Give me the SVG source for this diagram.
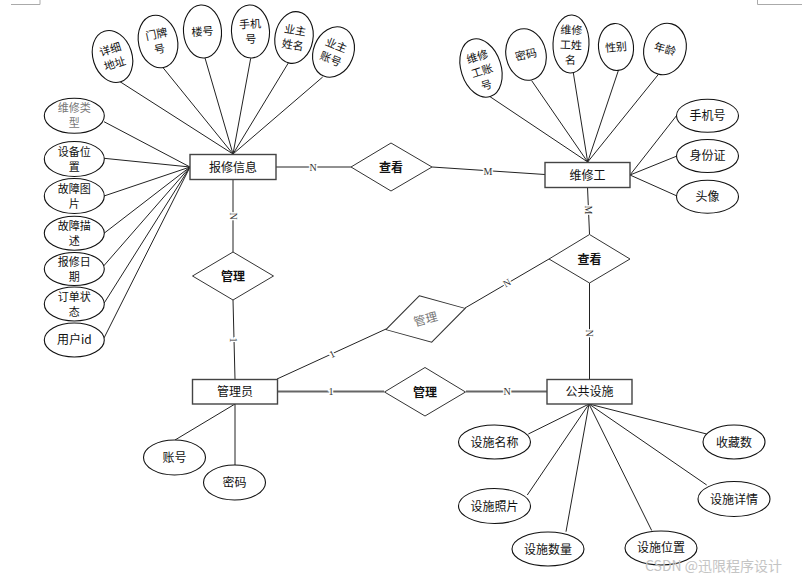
<svg xmlns="http://www.w3.org/2000/svg" width="804" height="579" viewBox="0 0 804 579">
<style>
text{font-family:"Noto Sans CJK SC","Liberation Sans",sans-serif;font-size:12px;fill:#111;text-anchor:middle}
text.ml{font-size:11px}
.ent rect{fill:#fff;stroke:#444;stroke-width:1.4}
.rel polygon{fill:#fff;stroke:#333;stroke-width:1}
.rel text{font-weight:bold}
.attr ellipse{fill:#fff;stroke:#111;stroke-width:1.1}
.gray{fill:#777}
.ln line{stroke:#222;stroke-width:1}
.ln line.thick{stroke:#666;stroke-width:2}
.card{font-family:"Liberation Serif",serif;font-size:10px;fill:#333;stroke:#fff;stroke-width:3;paint-order:stroke}
.mark{stroke:#aaa;stroke-width:1;fill:none}
.wm{font-size:14px;fill:#c4c4c4;text-anchor:start}
</style>
<path class="mark" d="M11 4.5H40V0M757.5 0V4.5H802"/>
<g id="connectors" class="ln">
<line x1="276" y1="167" x2="351" y2="167"/>
<line x1="432" y1="167" x2="545" y2="174.5"/>
<line x1="233" y1="179" x2="233" y2="252"/>
<line x1="233" y1="300" x2="235" y2="379"/>
<line x1="277" y1="379" x2="386" y2="329"/>
<line x1="465" y1="308" x2="549" y2="259"/>
<line x1="587.5" y1="187" x2="589.5" y2="234"/>
<line x1="589.5" y1="283" x2="589.5" y2="379"/>
<line class="thick" x1="277" y1="391.5" x2="384" y2="391.5"/>
<line class="thick" x1="466" y1="391.5" x2="547" y2="391.5"/>
<line x1="120" y1="81.7" x2="233" y2="154"/>
<line x1="163.3" y1="68" x2="233" y2="154"/>
<line x1="205" y1="58" x2="233" y2="154"/>
<line x1="250.7" y1="58.3" x2="233" y2="154"/>
<line x1="288.3" y1="63" x2="233" y2="154"/>
<line x1="322.7" y1="77" x2="233" y2="154"/>
<line x1="104" y1="121.7" x2="190" y2="167"/>
<line x1="104" y1="158.3" x2="190" y2="167"/>
<line x1="104" y1="196" x2="190" y2="167"/>
<line x1="104" y1="233.3" x2="190" y2="167"/>
<line x1="103" y1="266.7" x2="190" y2="167"/>
<line x1="104" y1="303.3" x2="190" y2="167"/>
<line x1="103" y1="340" x2="190" y2="167"/>
<line x1="489" y1="96" x2="587.7" y2="162"/>
<line x1="531.7" y1="80.7" x2="587.7" y2="162"/>
<line x1="573.3" y1="72.7" x2="587.7" y2="162"/>
<line x1="618.3" y1="70.7" x2="587.7" y2="162"/>
<line x1="658.3" y1="74.5" x2="587.7" y2="162"/>
<line x1="677" y1="115" x2="630" y2="175"/>
<line x1="677" y1="156" x2="630" y2="175"/>
<line x1="677" y1="196" x2="630" y2="175"/>
<line x1="175" y1="440" x2="235" y2="404"/>
<line x1="235" y1="465" x2="235" y2="404"/>
<line x1="528.3" y1="434" x2="589" y2="404"/>
<line x1="527.3" y1="495" x2="589" y2="404"/>
<line x1="566" y1="531.7" x2="589" y2="404"/>
<line x1="651.7" y1="530.5" x2="589" y2="404"/>
<line x1="706.7" y1="485" x2="589" y2="404"/>
<line x1="706.7" y1="434" x2="589" y2="404"/>
<text class="card" x="313" y="170.5">N</text>
<text class="card" x="488" y="174.5">M</text>
<text class="card" transform="translate(233,216) rotate(90)" y="3.5">N</text>
<text class="card" transform="translate(233.5,340) rotate(90)" y="3.5">1</text>
<text class="card" transform="translate(332,354) rotate(-24.6)" y="3.5">1</text>
<text class="card" transform="translate(507,283) rotate(-30)" y="3.5">N</text>
<text class="card" transform="translate(588.5,210) rotate(90)" y="3.5">M</text>
<text class="card" transform="translate(589.5,333) rotate(90)" y="3.5">N</text>
<text class="card" x="331" y="395">1</text>
<text class="card" x="507" y="395">N</text>
</g>
<g id="e-baoxiu" class="ent"><rect x="190" y="154.5" width="86" height="25"/><text x="233" y="171.5">报修信息</text></g>
<g id="e-weixiugong" class="ent"><rect x="545" y="162.5" width="85" height="25"/><text x="587.5" y="179.5">维修工</text></g>
<g id="e-guanliyuan" class="ent"><rect x="192.5" y="379.5" width="85" height="24.5"/><text x="235" y="396">管理员</text></g>
<g id="e-gonggong" class="ent"><rect x="547" y="379.5" width="85" height="24.5"/><text x="589.5" y="396">公共设施</text></g>
<g id="r-chakan1" class="rel"><polygon points="391,143 432,167 391,191 351,167"/><text x="391" y="171.5">查看</text></g>
<g id="r-guanli1" class="rel"><polygon points="233,252 273.5,276 233,300 192.5,276"/><text x="233" y="280.5">管理</text></g>
<g id="r-guanli2" class="rel" transform="translate(425.5,319) rotate(-15)"><polygon points="0,-24 41,0 0,24 -41,0"/><text class="gray" y="4.5" style="font-weight:normal">管理</text></g>
<g id="r-chakan2" class="rel"><polygon points="589.5,234.5 630,259 589.5,283 549,259"/><text x="589.5" y="263.5">查看</text></g>
<g id="r-guanli3" class="rel"><polygon points="425,367.5 465.5,392 425,416 384.5,392"/><text x="425" y="396.5">管理</text></g>
<g id="a-xiangxidizhi" class="attr" transform="translate(112.5,56.5) rotate(-18)"><ellipse rx="19.5" ry="26.5"/><text class="ml"><tspan x="0" y="-3.5">详细</tspan><tspan x="0" y="11.5">地址</tspan></text></g>
<g id="a-menpaihao" class="attr" transform="translate(158,41.5) rotate(-12)"><ellipse rx="19.5" ry="26.5"/><text class="ml"><tspan x="0" y="-3.5">门牌</tspan><tspan x="0" y="11.5">号</tspan></text></g>
<g id="a-louhao" class="attr" transform="translate(202.5,31.5) rotate(-4)"><ellipse rx="19" ry="26.5"/><text class="ml" y="4">楼号</text></g>
<g id="a-shoujihao1" class="attr" transform="translate(250.5,31.5) rotate(-3)"><ellipse rx="19" ry="26.5"/><text class="ml"><tspan x="0" y="-3.5">手机</tspan><tspan x="0" y="11.5">号</tspan></text></g>
<g id="a-yezhuxingming" class="attr" transform="translate(294,37.5) rotate(10)"><ellipse rx="19" ry="26"/><text class="ml"><tspan x="0" y="-3.5">业主</tspan><tspan x="0" y="11.5">姓名</tspan></text></g>
<g id="a-yezhuzhanghao" class="attr" transform="translate(333.5,52) rotate(22)"><ellipse rx="20" ry="26"/><text class="ml"><tspan x="0" y="-3.5">业主</tspan><tspan x="0" y="11.5">账号</tspan></text></g>
<g id="a-weixiuleixing" class="attr"><ellipse cx="74.3" cy="115.8" rx="30" ry="17.5"/><text class="ml gray"><tspan x="74.3" y="112.3">维修类</tspan><tspan x="74.3" y="127.3">型</tspan></text></g>
<g id="a-shebeiweizhi" class="attr"><ellipse cx="74.3" cy="159" rx="30" ry="17.5"/><text class="ml"><tspan x="74.3" y="155.5">设备位</tspan><tspan x="74.3" y="170.5">置</tspan></text></g>
<g id="a-guzhangtupian" class="attr"><ellipse cx="74.3" cy="196" rx="30" ry="17.5"/><text class="ml"><tspan x="74.3" y="192.5">故障图</tspan><tspan x="74.3" y="207.5">片</tspan></text></g>
<g id="a-guzhangmiaoshu" class="attr"><ellipse cx="74.3" cy="233.3" rx="30" ry="17"/><text class="ml"><tspan x="74.3" y="229.8">故障描</tspan><tspan x="74.3" y="244.8">述</tspan></text></g>
<g id="a-baoxiuriqi" class="attr"><ellipse cx="74.3" cy="269" rx="30" ry="16.5"/><text class="ml"><tspan x="74.3" y="265.5">报修日</tspan><tspan x="74.3" y="280.5">期</tspan></text></g>
<g id="a-dingdanzhuangtai" class="attr"><ellipse cx="74.3" cy="304" rx="30" ry="17"/><text class="ml"><tspan x="74.3" y="300.5">订单状</tspan><tspan x="74.3" y="315.5">态</tspan></text></g>
<g id="a-yonghuid" class="attr"><ellipse cx="74.3" cy="340" rx="30" ry="17"/><text x="74.3" y="344">用户id</text></g>
<g id="a-weixiugongzhanghao" class="attr" transform="translate(481,68) rotate(-18)"><ellipse rx="20" ry="30"/><text class="ml"><tspan x="0" y="-8">维修</tspan><tspan x="0" y="7">工账</tspan><tspan x="0" y="22">号</tspan></text></g>
<g id="a-mima1" class="attr" transform="translate(526,54.5) rotate(-12)"><ellipse rx="20" ry="26"/><text class="ml" y="4">密码</text></g>
<g id="a-weixiugongxingming" class="attr" transform="translate(571,44) rotate(2)"><ellipse rx="18" ry="29"/><text class="ml"><tspan x="0" y="-10">维修</tspan><tspan x="0" y="5">工姓</tspan><tspan x="0" y="20">名</tspan></text></g>
<g id="a-xingbie" class="attr" transform="translate(616,47) rotate(-5)"><ellipse rx="17.5" ry="23.5"/><text class="ml" y="4">性别</text></g>
<g id="a-nianling" class="attr" transform="translate(665,49) rotate(15)"><ellipse rx="21" ry="26"/><text class="ml" y="4">年龄</text></g>
<g id="a-shoujihao2" class="attr"><ellipse cx="707.5" cy="115.8" rx="31" ry="16.5"/><text x="707.5" y="120">手机号</text></g>
<g id="a-shenfenzheng" class="attr"><ellipse cx="707.5" cy="156" rx="31" ry="16.5"/><text x="707.5" y="160">身份证</text></g>
<g id="a-touxiang" class="attr"><ellipse cx="707.5" cy="196.7" rx="31" ry="16.5"/><text x="707.5" y="201">头像</text></g>
<g id="a-zhanghao" class="attr"><ellipse cx="174.5" cy="457.5" rx="31" ry="17.5"/><text x="174.5" y="462">账号</text></g>
<g id="a-mima2" class="attr"><ellipse cx="234.5" cy="482.5" rx="31" ry="17.5"/><text x="234.5" y="487">密码</text></g>
<g id="a-sheshimingcheng" class="attr"><ellipse cx="494.5" cy="442" rx="36" ry="17"/><text x="494.5" y="446.5">设施名称</text></g>
<g id="a-sheshizhaopian" class="attr"><ellipse cx="494.5" cy="506" rx="36" ry="17.5"/><text x="494.5" y="510.5">设施照片</text></g>
<g id="a-sheshishuliang" class="attr"><ellipse cx="548" cy="549" rx="36" ry="17"/><text x="548" y="553.5">设施数量</text></g>
<g id="a-sheshiweizhi" class="attr"><ellipse cx="661" cy="548" rx="36" ry="17"/><text x="661" y="552">设施位置</text></g>
<g id="a-sheshixiangqing" class="attr"><ellipse cx="734" cy="499" rx="36" ry="17.5"/><text x="734" y="503.5">设施详情</text></g>
<g id="a-shoucangshu" class="attr"><ellipse cx="734" cy="442" rx="31" ry="17"/><text x="734" y="446.5">收藏数</text></g>
<text class="wm" x="645" y="571">CSDN @迅限程序设计</text>
</svg>
